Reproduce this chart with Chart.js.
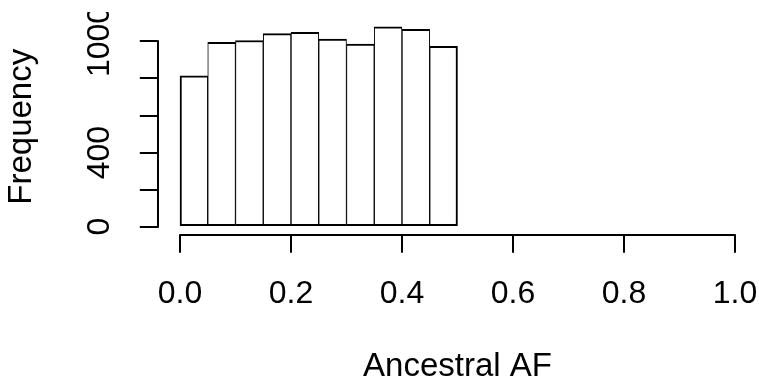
<!DOCTYPE html>
<html>
<head>
<meta charset="utf-8">
<script src="https://cdn.jsdelivr.net/npm/chart.js@4.4.1/dist/chart.umd.min.js"></script>
<style>
  html, body { margin: 0; padding: 0; background: #ffffff; overflow: hidden; width: 759px; height: 384px; }
  #wrap { position: absolute; left: 0; top: -12px; width: 759px; height: 396px; }
</style>
</head>
<body>
<div id="wrap"><canvas id="c" width="759" height="396"></canvas></div>
<script>
// ---- data ----
const binEdges = [0.00, 0.05, 0.10, 0.15, 0.20, 0.25, 0.30, 0.35, 0.40, 0.45, 0.50];
const counts   = [815, 995, 1005, 1042, 1049, 1013, 986, 1079, 1065, 973];
const xTicks   = [0.0, 0.2, 0.4, 0.6, 0.8, 1.0];
const yTicks   = [0, 200, 400, 600, 800, 1000];
const yLabels  = [0, 400, 1000];
const xTitle   = 'Ancestral AF';
const yTitle   = 'Frequency';

// ---- build ----
const points = counts.map((c, i) => ({ x: (binEdges[i] + binEdges[i + 1]) / 2, y: c }));
const yMax = Math.max(...counts);
const LW = 2;
const FONT = "'Liberation Sans', Arial, Helvetica, sans-serif";
const CLIP_TOP = 24; // figure region edge (canvas coords)

const rAxisLines = {
  id: 'rAxisLines',
  beforeDraw(chart) {
    const { ctx } = chart;
    ctx.save();
    ctx.beginPath();
    ctx.rect(0, CLIP_TOP, chart.width, chart.height - CLIP_TOP);
    ctx.clip();
  },
  afterDraw(chart) {
    const { ctx, chartArea: a, scales: { x, y } } = chart;
    ctx.save();
    ctx.strokeStyle = '#000';
    ctx.lineWidth = LW;
    ctx.lineCap = 'round';
    ctx.beginPath();
    const yb = Math.round(a.bottom);
    ctx.moveTo(Math.round(x.getPixelForValue(xTicks[0])), yb);
    ctx.lineTo(Math.round(x.getPixelForValue(xTicks[xTicks.length - 1])), yb);
    const xl = Math.round(a.left);
    ctx.moveTo(xl, Math.round(y.getPixelForValue(yTicks[0])));
    ctx.lineTo(xl, Math.round(y.getPixelForValue(yTicks[yTicks.length - 1])));
    ctx.stroke();
    ctx.restore();
    ctx.restore();
  }
};

new Chart(document.getElementById('c'), {
  type: 'bar',
  data: {
    datasets: [{
      data: points,
      backgroundColor: '#ffffff',
      borderColor: '#000000',
      borderWidth: (ctx) => ({
        top: LW, bottom: LW,
        left: ctx.dataIndex === 0 ? LW : LW / 2,
        right: ctx.dataIndex === counts.length - 1 ? LW : LW / 2
      }),
      borderSkipped: false,
      barPercentage: 1,
      categoryPercentage: 1
    }]
  },
  options: {
    responsive: false,
    animation: false,
    events: [],
    layout: { padding: { top: 30.8, right: 1.8, bottom: 0, left: 0 } },
    plugins: { legend: { display: false }, tooltip: { enabled: false } },
    scales: {
      x: {
        type: 'linear',
        offset: false,
        min: -0.04,
        max: 1.04,
        afterBuildTicks: (s) => { s.ticks = xTicks.map(v => ({ value: v })); },
        afterFit: (s) => { s.height = 149.3; s.paddingLeft = 0; s.paddingRight = 0; },
        border: { display: false },
        grid: { offset: false, drawOnChartArea: false, drawTicks: true, tickLength: 18, color: '#000', lineWidth: LW },
        ticks: {
          autoSkip: false, maxRotation: 0, minRotation: 0,
          padding: 22, color: '#000',
          font: { family: FONT, size: 32 },
          callback: (v) => Number(v).toFixed(1)
        },
        title: {
          display: true, text: xTitle, color: '#000',
          font: { family: FONT, size: 33, lineHeight: 1 },
          padding: { top: 0, bottom: 0.6 }
        }
      },
      y: {
        type: 'linear',
        min: -0.04 * yMax,
        max: 1.04 * yMax,
        afterBuildTicks: (s) => { s.ticks = yTicks.map(v => ({ value: v })); },
        afterFit: (s) => { s.width = 157.8; s.paddingTop = 0; s.paddingBottom = 0; },
        border: { display: false },
        grid: { drawOnChartArea: false, drawTicks: true, tickLength: 18, color: '#000', lineWidth: LW },
        ticks: {
          autoSkip: false, minRotation: 90, maxRotation: 90,
          crossAlign: 'center',
          padding: 4, color: '#000',
          font: { family: FONT, size: 32 },
          callback: (v) => yLabels.includes(v) ? String(v) : ''
        },
        title: {
          display: true, text: yTitle, color: '#000',
          font: { family: FONT, size: 33, lineHeight: 1 },
          padding: { top: 5.4, bottom: 0 }
        }
      }
    }
  },
  plugins: [rAxisLines]
});
</script>
</body>
</html>
